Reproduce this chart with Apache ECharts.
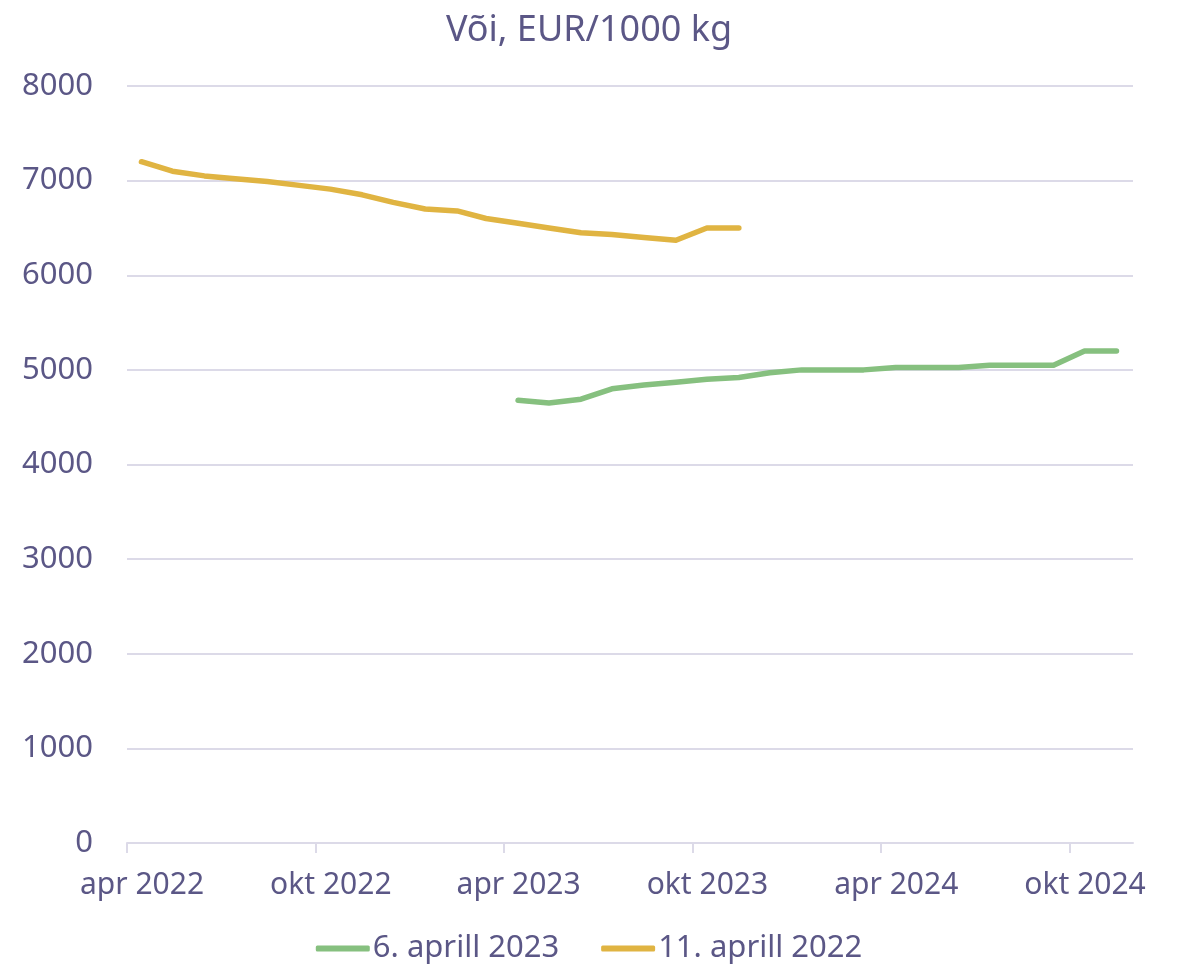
<!DOCTYPE html>
<html>
<head>
<meta charset="utf-8">
<script src="https://cdn.jsdelivr.net/npm/echarts@6/dist/echarts.min.js"></script>
<style>
html,body{margin:0;padding:0;background:#fff;}
#chart{width:1178px;height:969px;}
</style>
</head>
<body>
<div id="chart"></div>
<script>
const titleText = 'Või, EUR/1000 kg';
const greenName = '6. aprill 2023';
const yellowName = '11. aprill 2022';

const greenDates = ['2023-04-15','2023-05-15','2023-06-15','2023-07-15','2023-08-15','2023-09-15','2023-10-15','2023-11-15','2023-12-15','2024-01-15','2024-02-15','2024-03-15','2024-04-15','2024-05-15','2024-06-15','2024-07-15','2024-08-15','2024-09-15','2024-10-15','2024-11-15'];
const greenValues = [4680,4650,4690,4800,4840,4870,4900,4920,4970,5000,5000,5000,5025,5025,5025,5050,5050,5050,5200,5200];

const yellowDates = ['2022-04-15','2022-05-15','2022-06-15','2022-07-15','2022-08-15','2022-09-15','2022-10-15','2022-11-15','2022-12-15','2023-01-15','2023-02-15','2023-03-15','2023-04-15','2023-05-15','2023-06-15','2023-07-15','2023-08-15','2023-09-15','2023-10-15','2023-11-15'];
const yellowValues = [7200,7100,7050,7020,6990,6950,6910,6850,6770,6700,6680,6600,6550,6500,6450,6430,6400,6370,6500,6500];

const tickDates = ['2022-04-01','2022-10-01','2023-04-01','2023-10-01','2024-04-01','2024-10-01'];
const monthNames = ['jaan','veebr','märts','apr','mai','juuni','juuli','aug','sept','okt','nov','dets'];
const axisStart = '2022-04-01';
const axisEnd = '2024-12-01';

function toTs(s){ const p = s.split('-').map(Number); return Date.UTC(p[0], p[1]-1, p[2]); }

const textColor = '#5b5786';
const gridColor = '#dcdae8';
const font = '"Noto Sans", sans-serif';
const tickTs = tickDates.map(toTs);

const chart = echarts.init(document.getElementById('chart'));
chart.setOption({
  animation: false,
  textStyle: { fontFamily: font },
  title: {
    text: titleText, left: 'center', top: 8,
    textStyle: { color: textColor, fontSize: 36, fontWeight: 'normal', fontFamily: font }
  },
  legend: {
    bottom: 0, left: 'center',
    icon: 'roundRect', itemWidth: 54, itemHeight: 6, itemGap: 42,
    textStyle: { color: textColor, fontSize: 31, fontFamily: font, padding: [0,0,0,-2] },
    data: [greenName, yellowName]
  },
  grid: { left: 127, right: 45, top: 86, bottom: 126, containLabel: false, outerBoundsMode: 'none' },
  xAxis: {
    type: 'value',
    min: toTs(axisStart), max: toTs(axisEnd),
    axisLine: { show: true, lineStyle: { color: gridColor, width: 2 } },
    axisTick: { show: true, customValues: tickTs, length: 10, lineStyle: { color: gridColor, width: 2 } },
    axisLabel: {
      customValues: tickTs,
      color: textColor, fontSize: 30, fontFamily: font, margin: 27,
      padding: [0,0,0,30],
      formatter: function(v){ const d = new Date(v); return monthNames[d.getUTCMonth()] + ' ' + d.getUTCFullYear(); }
    },
    splitLine: { show: false }
  },
  yAxis: {
    type: 'value', min: 0, max: 8000, interval: 1000,
    axisLine: { show: false }, axisTick: { show: false },
    axisLabel: { color: textColor, fontSize: 31, fontFamily: font, margin: 34, formatter: function(v){ return String(v); } },
    splitLine: { lineStyle: { color: gridColor, width: 2 } }
  },
  series: [
    {
      name: greenName, type: 'line', showSymbol: false, symbol: 'none',
      data: greenDates.map((d,i) => [toTs(d), greenValues[i]]),
      lineStyle: { color: '#86c07f', width: 5.5, cap: 'round', join: 'round' },
      itemStyle: { color: '#86c07f' }
    },
    {
      name: yellowName, type: 'line', showSymbol: false, symbol: 'none',
      data: yellowDates.map((d,i) => [toTs(d), yellowValues[i]]),
      lineStyle: { color: '#e0b442', width: 5.5, cap: 'round', join: 'round' },
      itemStyle: { color: '#e0b442' }
    }
  ]
});
</script>
</body>
</html>
